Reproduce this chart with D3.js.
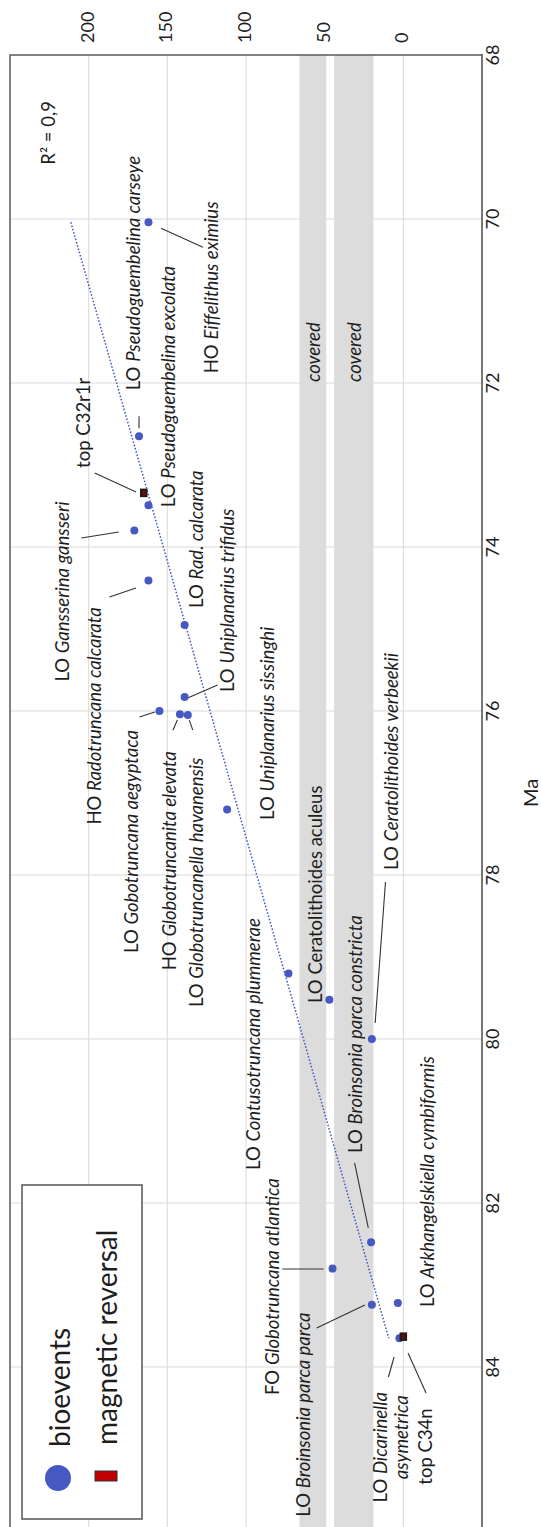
<!DOCTYPE html>
<html><head><meta charset="utf-8">
<script src="https://cdn.jsdelivr.net/npm/d3@7"></script>
<style>
body{margin:0;background:#fff}
text{font-family:Lato,"Open Sans",sans-serif;fill:#1e1e1e}
</style>
</head><body>
<svg id="c" width="541" height="1527"></svg>
<script>
// ---------- data ----------
const maDomain = [68, 86];
const valDomain = [-50, 250];
const maTicks = [68, 70, 72, 74, 76, 78, 80, 82, 84];
const valTicks = [0, 50, 100, 150, 200];
const coveredBands = [[49, 66], [19, 44]];
const coveredLabel = "covered";

const bioMa  = [70.04, 72.65, 73.49, 73.80, 74.41, 74.95, 75.83, 76.00, 76.04, 76.05, 77.20, 79.20, 79.52, 80.00, 82.48, 82.80, 83.24, 83.22, 83.65];
const bioVal = [162, 168, 162, 171, 162, 139, 139, 155, 142, 137, 112, 73, 47, 20, 20.5, 45, 20, 3.5, 2.5];
const bioPrefix = ["HO","LO","LO","LO","HO","LO","LO","LO","HO","LO","LO","LO","LO","LO","LO","FO","LO","LO","LO"];
const bioTaxon = ["Eiffelithus eximius","Pseudoguembelina carseye","Pseudoguembelina excolata","Gansserina gansseri",
  "Radotruncana calcarata","Rad. calcarata","Uniplanarius trifidus","Gobotruncana aegyptaca","Globotruncanita elevata",
  "Globotruncanella havanensis","Uniplanarius sissinghi","Contusotruncana plummerae","Ceratolithoides aculeus",
  "Ceratolithoides verbeekii","Broinsonia parca constricta","Globotruncana atlantica","Broinsonia parca parca",
  "Arkhangelskiella cymbiformis","Dicarinella|asymetrica"];
const bioItalic = [true,true,true,true,true,true,true,true,true,true,true,true,false,true,true,true,true,true,true];

const magMa = [73.34, 83.63];
const magVal = [165, 0];
const magLabel = ["top C32r1r", "top C34n"];

const r2Text = "R\u00B2 = 0,9";
const axisTitle = "Ma";
const legendItems = ["bioevents", "magnetic reversal"];

// ---------- layout (label offsets relative to the point, px) ----------
// [dx, dy, leader [x1,y1,x2,y2] or null]
const bioLayout = [
  [63, 151, [54.5, 25, 12.5, 6]],
  [-6.5, -46, [0, -20, 0, -8]],
  [20, 2, null],
  [-72, 151, [-53, 7.4, -15.5, 1.4]],
  [-54, 244, [-39, 16.4, -12.5, 7.4]],
  [11.6, -17, null],
  [42.6, -5, [33, -12, 3, 1]],
  [-28.7, 242, [-20, 6, -4.6, 1]],
  [-11, 256, [-7, 16, -2.6, 5.7]],
  [8.4, 292, [5, 15, 1.5, 5]],
  [39.7, 10.6, null],
  [-35.5, 196.6, null],
  [-14.4, 3.4, null],
  [18.8, -169, [13.6, -157, 3.3, -16]],
  [-16.5, -89.4, [-16.5, -79.4, -2.8, -14.4]],
  [-60.5, 126.4, [-50.2, 0.4, -8.9, 0.4]],
  [-68.9, 212, [-55.2, 23.3, -7, 0.3]],
  [29, 4, null],
  [-19, 109, [-11, 38.7, -5.3, 18.7], 1.6]
];
const magLayout = [
  [-61, -25, [-49, -20, -7.7, -1]],
  [21.7, 148, [22.7, 56.3, 4.7, 16.3]]
];

const W = 541, H = 1527;
const L = 10, R = 482, T = 55, B = 1531;
const blue = "#4659c2";
const FS = 18.5;
const svg = d3.select("#c");
svg.append("rect").attr("width", W).attr("height", H).attr("fill", "#fff");

const y = d3.scaleLinear().domain(maDomain).range([T, B]);
const x = d3.scaleLinear().domain(valDomain).range([R, L]);

// gridlines
svg.append("g").selectAll("line").data(valTicks).join("line")
  .attr("x1", d => x(d)).attr("x2", d => x(d)).attr("y1", T).attr("y2", B)
  .attr("stroke", "#d9d9d9").attr("stroke-width", 1);
svg.append("g").selectAll("line").data(maTicks.filter(d => d !== maDomain[0])).join("line")
  .attr("y1", d => y(d)).attr("y2", d => y(d)).attr("x1", L).attr("x2", R)
  .attr("stroke", "#d9d9d9").attr("stroke-width", 1);

// covered bands
svg.append("g").selectAll("rect").data(coveredBands).join("rect")
  .attr("x", d => x(d[1])).attr("width", d => x(d[0]) - x(d[1]))
  .attr("y", T).attr("height", B - T).attr("fill", "#dcdcdc");
svg.append("g").selectAll("text").data(coveredBands).join("text")
  .attr("transform", d => `translate(${x((d[0] + d[1]) / 2)},${y(72) - 1}) rotate(-90)`)
  .attr("dominant-baseline", "central").attr("font-size", FS).attr("font-style", "italic")
  .text(coveredLabel);

// frame
svg.append("path").attr("d", `M${L},${B}V${T}H${R}`).attr("fill", "none")
  .attr("stroke", "#5a5a5a").attr("stroke-width", 1.5);
svg.append("line").attr("x1", R).attr("x2", R).attr("y1", T - 1).attr("y2", B)
  .attr("stroke", "#4a4a4a").attr("stroke-width", 1.5);

// value tick labels (top)
svg.append("g").selectAll("text").data(valTicks).join("text")
  .attr("transform", d => `translate(${x(d) - 2},43) rotate(-90)`)
  .attr("dominant-baseline", "central").attr("font-size", 18)
  .text(d => d);
// Ma tick labels (right)
svg.append("g").selectAll("text").data(maTicks).join("text")
  .attr("transform", d => `translate(492,${y(d)}) rotate(-90)`)
  .attr("text-anchor", "middle").attr("dominant-baseline", "central").attr("font-size", 18)
  .text(d => d);
svg.append("text").attr("transform", `translate(530,${y(77)}) rotate(-90)`)
  .attr("text-anchor", "middle").attr("dominant-baseline", "central").attr("font-size", 20)
  .text(axisTitle);

// trend line (least squares over bioevents)
const mx = d3.mean(bioMa), my = d3.mean(bioVal);
const slope = d3.sum(bioMa, (m, i) => (m - mx) * (bioVal[i] - my)) / d3.sum(bioMa, m => (m - mx) ** 2);
const icpt = my - slope * mx;
const ext = d3.extent(bioMa);
svg.append("line")
  .attr("x1", x(icpt + slope * ext[0])).attr("y1", y(ext[0]))
  .attr("x2", x(icpt + slope * ext[1])).attr("y2", y(ext[1]))
  .attr("stroke", blue).attr("stroke-width", 1.5).attr("stroke-dasharray", "1.6,1.8");

svg.append("text").attr("transform", `translate(${x(225.7)},${y(68.95)}) rotate(-90)`)
  .attr("text-anchor", "middle").attr("dominant-baseline", "central").attr("font-size", FS)
  .text(r2Text);

// leaders
const leaders = svg.append("g").attr("stroke", "#333").attr("stroke-width", 1.1);
bioMa.forEach((m, i) => {
  const lay = bioLayout[i]; if (!lay[2]) return;
  const px = x(bioVal[i]), py = y(m), l = lay[2];
  leaders.append("line").attr("x1", px + l[0]).attr("y1", py + l[1]).attr("x2", px + l[2]).attr("y2", py + l[3]);
});
magMa.forEach((m, i) => {
  const lay = magLayout[i]; const px = x(magVal[i]), py = y(m), l = lay[2];
  leaders.append("line").attr("x1", px + l[0]).attr("y1", py + l[1]).attr("x2", px + l[2]).attr("y2", py + l[3]);
});

// bioevent points
svg.append("g").selectAll("circle").data(bioMa).join("circle")
  .attr("cx", (d, i) => x(bioVal[i])).attr("cy", d => y(d)).attr("r", 4).attr("fill", blue);

// magnetic markers
svg.append("g").selectAll("rect").data(magMa).join("rect")
  .attr("x", (d, i) => x(magVal[i]) - 3).attr("y", d => y(d) - 3.5)
  .attr("width", 6).attr("height", 7).attr("fill", "#5a1008").attr("stroke", "#1a1a1a").attr("stroke-width", 1.5);

// bio labels
const lab = svg.append("g").attr("font-size", FS);
bioMa.forEach((m, i) => {
  const lay = bioLayout[i];
  const px = x(bioVal[i]), py = y(m);
  const parts = bioTaxon[i].split("|");
  if (parts.length === 1) {
    const t = lab.append("text").attr("transform", `translate(${px + lay[0]},${py + lay[1]}) rotate(-90)`)
      .attr("dominant-baseline", "central");
    t.append("tspan").text(bioPrefix[i] + " ");
    t.append("tspan").attr("font-style", bioItalic[i] ? "italic" : "normal").text(parts[0]);
  } else {
    const t1 = lab.append("text").attr("transform", `translate(${px + lay[0]},${py + lay[1]}) rotate(-90)`)
      .attr("dominant-baseline", "central").attr("text-anchor", "middle");
    t1.append("tspan").text(bioPrefix[i] + " ");
    t1.append("tspan").attr("font-style", "italic").text(parts[0]);
    lab.append("text").attr("transform", `translate(${px + lay[3]},${py + lay[1] - 10}) rotate(-90)`)
      .attr("dominant-baseline", "central").attr("text-anchor", "middle").attr("font-style", "italic")
      .text(parts[1]);
  }
});
magMa.forEach((m, i) => {
  const lay = magLayout[i];
  lab.append("text").attr("transform", `translate(${x(magVal[i]) + lay[0]},${y(m) + lay[1]}) rotate(-90)`)
    .attr("dominant-baseline", "central").text(magLabel[i]);
});

// legend
const lg = svg.append("g");
lg.append("rect").attr("x", 22).attr("y", 1185).attr("width", 120).attr("height", 334)
  .attr("fill", "#fff").attr("stroke", "#555").attr("stroke-width", 1.5);
lg.append("circle").attr("cx", 58).attr("cy", 1478).attr("r", 13).attr("fill", blue);
lg.append("rect").attr("x", 95).attr("y", 1471).attr("width", 22).attr("height", 10)
  .attr("fill", "#c00000").attr("stroke", "#333").attr("stroke-width", 1);
lg.append("text").attr("transform", "translate(59,1447) rotate(-90)").attr("dominant-baseline", "central")
  .attr("font-size", 28).text(legendItems[0]);
lg.append("text").attr("transform", "translate(106,1445) rotate(-90)").attr("dominant-baseline", "central")
  .attr("font-size", 28).text(legendItems[1]);
</script>
</body></html>
